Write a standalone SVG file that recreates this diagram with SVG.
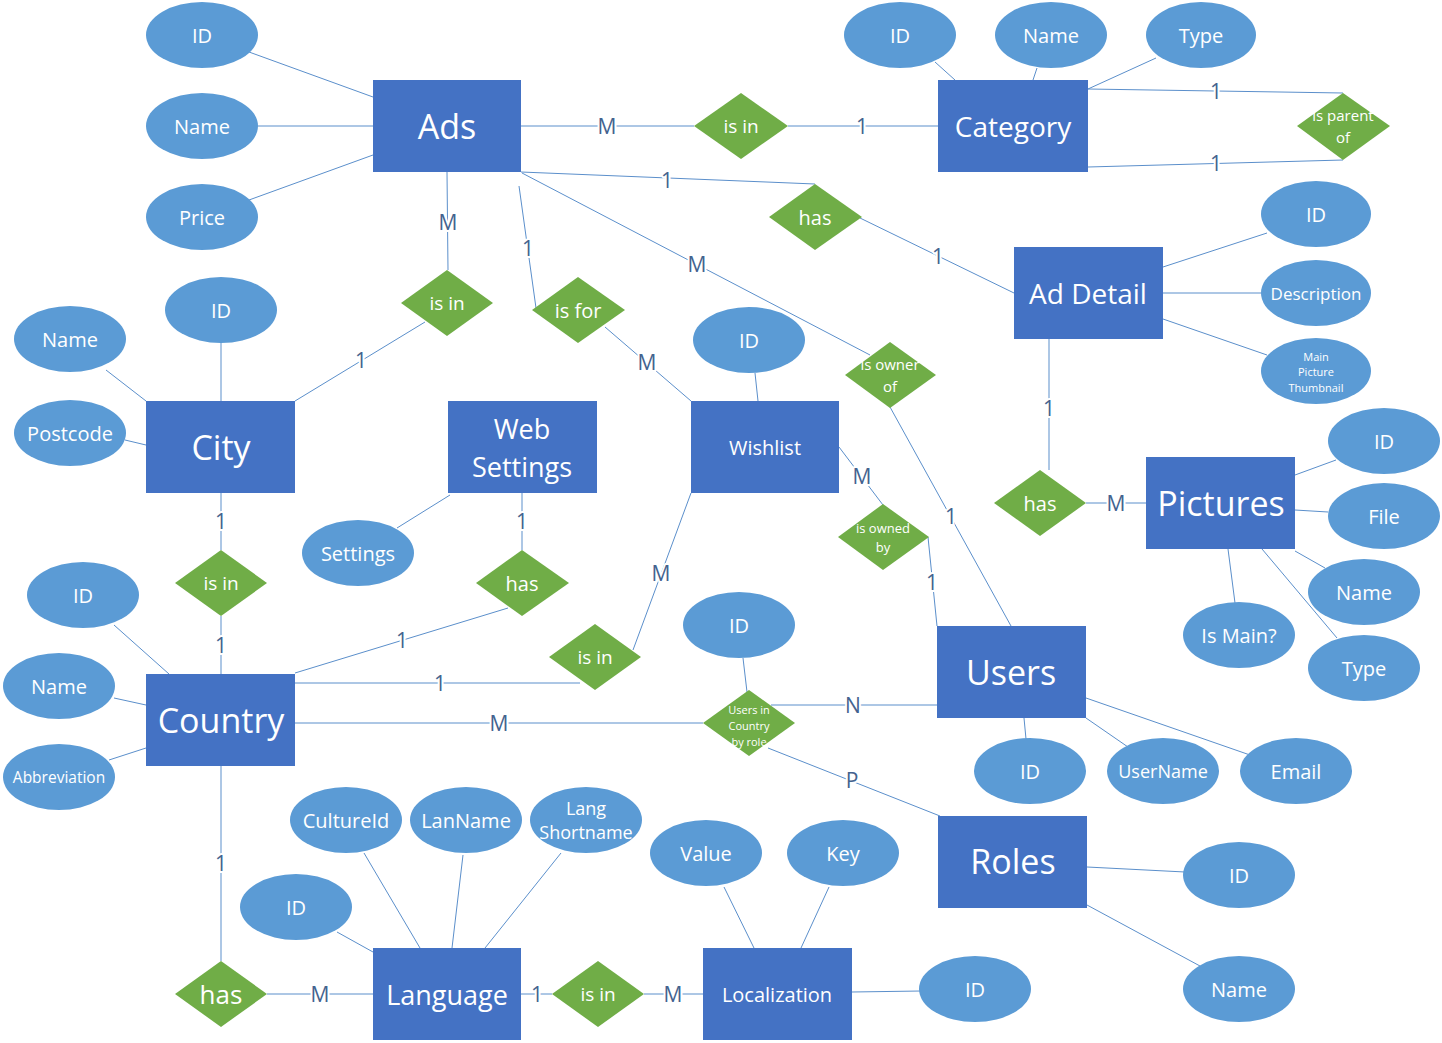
<svg xmlns="http://www.w3.org/2000/svg" width="1442" height="1043" viewBox="0 0 1442 1043">
<style>
.ent{fill:#4472C4}
.att{fill:#5B9BD5}
.rel{fill:#70AD47}
text{font-family:"Open Sans","Noto Sans","DejaVu Sans",sans-serif;fill:#fff;text-anchor:middle;dominant-baseline:central}
.c line{stroke:#5B8FCB;stroke-width:1}
.lbl{fill:#44638F;font-size:21px;stroke:#fff;stroke-width:4px;paint-order:stroke;stroke-linejoin:round}
.a{font-size:20px}
</style>
<rect width="1442" height="1043" fill="#fff"/>
<g id="connectors" class="c">
<line x1="249" y1="52" x2="373" y2="97"/>
<line x1="258" y1="126" x2="373" y2="126"/>
<line x1="249" y1="200" x2="373" y2="155"/>
<line x1="521" y1="126" x2="694" y2="126"/>
<line x1="788" y1="126" x2="938" y2="126"/>
<line x1="935" y1="62" x2="955" y2="80"/>
<line x1="1037" y1="68" x2="1033" y2="80"/>
<line x1="1156" y1="58" x2="1088" y2="89"/>
<line x1="1088" y1="89" x2="1343" y2="93"/>
<line x1="1088" y1="167" x2="1343" y2="160"/>
<line x1="521" y1="172" x2="815" y2="184"/>
<line x1="860" y1="218" x2="1014" y2="293"/>
<line x1="522" y1="173" x2="870" y2="355"/>
<line x1="890" y1="407" x2="1011" y2="626"/>
<line x1="447" y1="172" x2="448" y2="270"/>
<line x1="425" y1="322" x2="295" y2="401"/>
<line x1="519" y1="186" x2="536" y2="308"/>
<line x1="605" y1="327" x2="691" y2="401"/>
<line x1="755" y1="373" x2="758" y2="401"/>
<line x1="839" y1="447" x2="883" y2="505"/>
<line x1="928" y1="537" x2="937" y2="626"/>
<line x1="691" y1="493" x2="633" y2="650"/>
<line x1="295" y1="683" x2="580" y2="683"/>
<line x1="295" y1="673" x2="508" y2="608"/>
<line x1="522" y1="493" x2="522" y2="550"/>
<line x1="450" y1="495" x2="397" y2="528"/>
<line x1="221" y1="493" x2="221" y2="550"/>
<line x1="221" y1="616" x2="221" y2="674"/>
<line x1="221" y1="343" x2="221" y2="401"/>
<line x1="106" y1="370" x2="146" y2="401"/>
<line x1="125" y1="440" x2="146" y2="445"/>
<line x1="114" y1="625" x2="169" y2="674"/>
<line x1="114" y1="698" x2="146" y2="705"/>
<line x1="109" y1="760" x2="146" y2="748"/>
<line x1="295" y1="723" x2="703" y2="723"/>
<line x1="771" y1="705" x2="937" y2="705"/>
<line x1="743" y1="658" x2="747" y2="692"/>
<line x1="768" y1="748" x2="940" y2="816"/>
<line x1="1024" y1="718" x2="1026" y2="739"/>
<line x1="1086" y1="718" x2="1128" y2="747"/>
<line x1="1086" y1="698" x2="1250" y2="755"/>
<line x1="1087" y1="867" x2="1185" y2="872"/>
<line x1="1087" y1="905" x2="1200" y2="966"/>
<line x1="852" y1="992" x2="921" y2="991"/>
<line x1="724" y1="887" x2="754" y2="948"/>
<line x1="829" y1="887" x2="801" y2="948"/>
<line x1="521" y1="994" x2="552" y2="994"/>
<line x1="644" y1="994" x2="703" y2="994"/>
<line x1="267" y1="994" x2="373" y2="994"/>
<line x1="221" y1="766" x2="221" y2="961"/>
<line x1="337" y1="932" x2="373" y2="952"/>
<line x1="364" y1="853" x2="420" y2="948"/>
<line x1="463" y1="855" x2="452" y2="948"/>
<line x1="561" y1="853" x2="485" y2="948"/>
<line x1="1163" y1="267" x2="1267" y2="233"/>
<line x1="1163" y1="293" x2="1261" y2="293"/>
<line x1="1163" y1="319" x2="1267" y2="355"/>
<line x1="1049" y1="339" x2="1049" y2="470"/>
<line x1="1086" y1="503" x2="1146" y2="503"/>
<line x1="1295" y1="475" x2="1336" y2="460"/>
<line x1="1295" y1="510" x2="1328" y2="512"/>
<line x1="1295" y1="551" x2="1325" y2="568"/>
<line x1="1262" y1="549" x2="1337" y2="638"/>
<line x1="1228" y1="549" x2="1235" y2="603"/>
<text class="lbl" x="607" y="126">M</text>
<text class="lbl" x="862" y="126">1</text>
<text class="lbl" x="1216" y="91">1</text>
<text class="lbl" x="1216" y="163">1</text>
<text class="lbl" x="667" y="180">1</text>
<text class="lbl" x="938" y="256">1</text>
<text class="lbl" x="697" y="264">M</text>
<text class="lbl" x="951" y="516">1</text>
<text class="lbl" x="448" y="222">M</text>
<text class="lbl" x="361" y="360">1</text>
<text class="lbl" x="528" y="248">1</text>
<text class="lbl" x="647" y="362">M</text>
<text class="lbl" x="862" y="476">M</text>
<text class="lbl" x="932" y="582">1</text>
<text class="lbl" x="661" y="573">M</text>
<text class="lbl" x="440" y="683">1</text>
<text class="lbl" x="402" y="640">1</text>
<text class="lbl" x="522" y="521">1</text>
<text class="lbl" x="221" y="521">1</text>
<text class="lbl" x="221" y="645">1</text>
<text class="lbl" x="499" y="723">M</text>
<text class="lbl" x="853" y="705">N</text>
<text class="lbl" x="852" y="780">P</text>
<text class="lbl" x="537" y="994">1</text>
<text class="lbl" x="673" y="994">M</text>
<text class="lbl" x="320" y="994">M</text>
<text class="lbl" x="221" y="863">1</text>
<text class="lbl" x="1049" y="408">1</text>
<text class="lbl" x="1116" y="503">M</text>
</g>
<g id="ads"><rect class="ent" x="373" y="80" width="148" height="92"/><text x="447" y="126" font-size="34">Ads</text></g>
<g id="category"><rect class="ent" x="938" y="80" width="150" height="92"/><text x="1013" y="126" font-size="28">Category</text></g>
<g id="ad-detail"><rect class="ent" x="1014" y="247" width="149" height="92"/><text x="1088" y="293" font-size="28">Ad Detail</text></g>
<g id="city"><rect class="ent" x="146" y="401" width="149" height="92"/><text x="221" y="447" font-size="34">City</text></g>
<g id="web-settings"><rect class="ent" x="448" y="401" width="149" height="92"/><text x="522" y="428" font-size="27">Web</text><text x="522" y="466" font-size="27">Settings</text></g>
<g id="wishlist"><rect class="ent" x="691" y="401" width="148" height="92"/><text x="765" y="447" font-size="20">Wishlist</text></g>
<g id="pictures"><rect class="ent" x="1146" y="457" width="149" height="92"/><text x="1221" y="503" font-size="34">Pictures</text></g>
<g id="users"><rect class="ent" x="937" y="626" width="149" height="92"/><text x="1011" y="672" font-size="34">Users</text></g>
<g id="country"><rect class="ent" x="146" y="674" width="149" height="92"/><text x="221" y="720" font-size="34">Country</text></g>
<g id="roles"><rect class="ent" x="938" y="816" width="149" height="92"/><text x="1013" y="861" font-size="34">Roles</text></g>
<g id="language"><rect class="ent" x="373" y="948" width="148" height="92"/><text x="447" y="994" font-size="27">Language</text></g>
<g id="localization"><rect class="ent" x="703" y="948" width="149" height="92"/><text x="777" y="994" font-size="20">Localization</text></g>
<g id="ads-id"><ellipse class="att" cx="202" cy="35" rx="56" ry="33"/><text class="a" x="202" y="35">ID</text></g>
<g id="ads-name"><ellipse class="att" cx="202" cy="126" rx="56" ry="33"/><text class="a" x="202" y="126">Name</text></g>
<g id="ads-price"><ellipse class="att" cx="202" cy="217" rx="56" ry="33"/><text class="a" x="202" y="217">Price</text></g>
<g id="category-id"><ellipse class="att" cx="900" cy="35" rx="56" ry="33"/><text class="a" x="900" y="35">ID</text></g>
<g id="category-name"><ellipse class="att" cx="1051" cy="35" rx="56" ry="33"/><text class="a" x="1051" y="35">Name</text></g>
<g id="category-type"><ellipse class="att" cx="1201" cy="35" rx="55" ry="33"/><text class="a" x="1201" y="35">Type</text></g>
<g id="addetail-id"><ellipse class="att" cx="1316" cy="214" rx="55" ry="33"/><text class="a" x="1316" y="214">ID</text></g>
<g id="addetail-description"><ellipse class="att" cx="1316" cy="293" rx="55" ry="33"/><text x="1316" y="293" font-size="17">Description</text></g>
<g id="addetail-thumbnail"><ellipse class="att" cx="1316" cy="371" rx="55" ry="33"/><text x="1316" y="356" font-size="11">Main</text><text x="1316" y="371" font-size="11">Picture</text><text x="1316" y="387" font-size="11">Thumbnail</text></g>
<g id="city-id"><ellipse class="att" cx="221" cy="310" rx="56" ry="33"/><text class="a" x="221" y="310">ID</text></g>
<g id="city-name"><ellipse class="att" cx="70" cy="339" rx="56" ry="33"/><text class="a" x="70" y="339">Name</text></g>
<g id="city-postcode"><ellipse class="att" cx="70" cy="433" rx="56" ry="33"/><text class="a" x="70" y="433">Postcode</text></g>
<g id="websettings-settings"><ellipse class="att" cx="358" cy="553" rx="56" ry="33"/><text class="a" x="358" y="553">Settings</text></g>
<g id="wishlist-id"><ellipse class="att" cx="749" cy="340" rx="56" ry="33"/><text class="a" x="749" y="340">ID</text></g>
<g id="pictures-id"><ellipse class="att" cx="1384" cy="441" rx="56" ry="33"/><text class="a" x="1384" y="441">ID</text></g>
<g id="pictures-file"><ellipse class="att" cx="1384" cy="516" rx="56" ry="33"/><text class="a" x="1384" y="516">File</text></g>
<g id="pictures-name"><ellipse class="att" cx="1364" cy="592" rx="56" ry="33"/><text class="a" x="1364" y="592">Name</text></g>
<g id="pictures-ismain"><ellipse class="att" cx="1239" cy="635" rx="56" ry="33"/><text class="a" x="1239" y="635">Is Main?</text></g>
<g id="pictures-type"><ellipse class="att" cx="1364" cy="668" rx="56" ry="33"/><text class="a" x="1364" y="668">Type</text></g>
<g id="usersincountry-id"><ellipse class="att" cx="739" cy="625" rx="56" ry="33"/><text class="a" x="739" y="625">ID</text></g>
<g id="users-id"><ellipse class="att" cx="1030" cy="771" rx="56" ry="33"/><text class="a" x="1030" y="771">ID</text></g>
<g id="users-username"><ellipse class="att" cx="1163" cy="771" rx="56" ry="33"/><text x="1163" y="771" font-size="18">UserName</text></g>
<g id="users-email"><ellipse class="att" cx="1296" cy="771" rx="56" ry="33"/><text class="a" x="1296" y="771">Email</text></g>
<g id="roles-id"><ellipse class="att" cx="1239" cy="875" rx="56" ry="33"/><text class="a" x="1239" y="875">ID</text></g>
<g id="roles-name"><ellipse class="att" cx="1239" cy="989" rx="56" ry="33"/><text class="a" x="1239" y="989">Name</text></g>
<g id="country-id"><ellipse class="att" cx="83" cy="595" rx="56" ry="33"/><text class="a" x="83" y="595">ID</text></g>
<g id="country-name"><ellipse class="att" cx="59" cy="686" rx="56" ry="33"/><text class="a" x="59" y="686">Name</text></g>
<g id="country-abbreviation"><ellipse class="att" cx="59" cy="777" rx="56" ry="33"/><text x="59" y="777" font-size="15.5">Abbreviation</text></g>
<g id="language-cultureid"><ellipse class="att" cx="346" cy="820" rx="56" ry="33"/><text class="a" x="346" y="820">CultureId</text></g>
<g id="language-lanname"><ellipse class="att" cx="466" cy="820" rx="56" ry="33"/><text class="a" x="466" y="820">LanName</text></g>
<g id="language-shortname"><ellipse class="att" cx="586" cy="820" rx="56" ry="33"/><text x="586" y="808" font-size="18">Lang</text><text x="586" y="832" font-size="18">Shortname</text></g>
<g id="language-id"><ellipse class="att" cx="296" cy="907" rx="56" ry="33"/><text class="a" x="296" y="907">ID</text></g>
<g id="localization-value"><ellipse class="att" cx="706" cy="853" rx="56" ry="33"/><text class="a" x="706" y="853">Value</text></g>
<g id="localization-key"><ellipse class="att" cx="843" cy="853" rx="56" ry="33"/><text class="a" x="843" y="853">Key</text></g>
<g id="localization-id"><ellipse class="att" cx="975" cy="989" rx="56" ry="33"/><text class="a" x="975" y="989">ID</text></g>
<g id="rel-ads-category"><polygon class="rel" points="741,93 788,126 741,159 694,126"/><text x="741" y="126" font-size="19">is in</text></g>
<g id="rel-category-parent"><polygon class="rel" points="1343,93 1390,126 1343,160 1297,126"/><text x="1343" y="115" font-size="15">is parent</text><text x="1343" y="137" font-size="15">of</text></g>
<g id="rel-ads-addetail"><polygon class="rel" points="815,184 862,217 815,250 769,217"/><text x="815" y="217" font-size="20">has</text></g>
<g id="rel-ads-city"><polygon class="rel" points="447,270 493,303 447,336 401,303"/><text x="447" y="303" font-size="19">is in</text></g>
<g id="rel-ads-wishlist"><polygon class="rel" points="578,277 625,310 578,343 532,310"/><text x="578" y="310" font-size="20">is for</text></g>
<g id="rel-ads-users"><polygon class="rel" points="890,342 936,375 890,408 845,375"/><text x="890" y="364" font-size="15">is owner</text><text x="890" y="386" font-size="15">of</text></g>
<g id="rel-addetail-pictures"><polygon class="rel" points="1040,470 1086,503 1040,536 994,503"/><text x="1040" y="503" font-size="20">has</text></g>
<g id="rel-wishlist-users"><polygon class="rel" points="883,504 929,537 883,570 838,537"/><text x="883" y="528" font-size="13">is owned</text><text x="883" y="547" font-size="13">by</text></g>
<g id="rel-city-country"><polygon class="rel" points="221,550 267,583 221,616 175,583"/><text x="221" y="583" font-size="19">is in</text></g>
<g id="rel-country-websettings"><polygon class="rel" points="522,550 569,583 522,616 476,583"/><text x="522" y="583" font-size="20">has</text></g>
<g id="rel-wishlist-country"><polygon class="rel" points="595,624 641,657 595,690 549,657"/><text x="595" y="657" font-size="19">is in</text></g>
<g id="rel-users-country-role"><polygon class="rel" points="749,690 795,723 749,756 703,723"/><text x="749" y="709" font-size="11">Users in</text><text x="749" y="725" font-size="11">Country</text><text x="749" y="741" font-size="11">by role</text></g>
<g id="rel-country-language"><polygon class="rel" points="221,961 267,994 221,1027 175,994"/><text x="221" y="994" font-size="26">has</text></g>
<g id="rel-language-localization"><polygon class="rel" points="598,961 644,994 598,1027 552,994"/><text x="598" y="994" font-size="19">is in</text></g>
</svg>
